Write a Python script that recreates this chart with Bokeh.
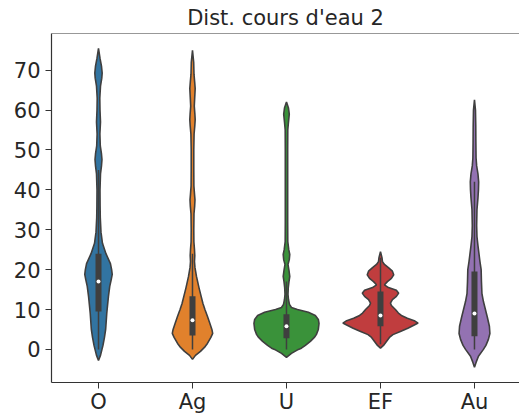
from bokeh.plotting import figure
from bokeh.models import Range1d, FixedTicker, Title, Span
from bokeh.embed import file_html
from bokeh.resources import INLINE

# ---- data ----
categories = ["O", "Ag", "U", "EF", "Au"]
colors = ["#3274a1", "#e1812c", "#3a923a", "#c03d3e", "#9372b2"]
y_ticks = [0, 10, 20, 30, 40, 50, 60, 70]

# density profiles: value levels and relative density (largest value = widest peak of all)
o_levels = [-2.8, -1.5, 0, 1, 3, 5, 9, 13.3, 15.8, 17.5, 18.8, 20, 21.5, 24, 26.6, 29.4, 33, 36, 40, 44, 46, 47.6, 49, 51, 54, 57, 60, 63, 66, 68, 69.3, 71, 73, 75.5]
o_density = [0, 2, 3.5, 4.5, 6, 7.2, 8.3, 10, 11.3, 12.8, 13.8, 13.2, 12, 7.5, 4, 2.5, 1.8, 1.6, 1.5, 2, 3, 3.5, 3, 1.8, 1.4, 2, 1.5, 1.3, 2, 3.3, 3.7, 3, 1.5, 0]

ag_levels = [-2.5, -1.5, -0.5, 0.5, 1.5, 3, 4, 5, 6.5, 8.3, 10, 11.5, 13.3, 15.5, 18.3, 20.5, 22, 23.5, 25, 27, 30, 34, 36, 37.5, 39, 41, 45, 50, 54, 56, 57.6, 59, 61, 63, 65.4, 67, 69, 72, 75]
ag_density = [0, 3, 8, 12, 15, 18.5, 20.3, 19.5, 17.5, 15, 12.5, 10.5, 8.7, 6.5, 4, 2.5, 2, 2.3, 2, 1.4, 1.3, 1.5, 2.2, 2.5, 2, 1.4, 1.3, 1.3, 1.6, 2.3, 2.7, 2.4, 1.8, 2.2, 2.7, 2.2, 1.5, 1.2, 0]

u_levels = [-2, -1, 0, 0.3, 1, 2, 3, 3.7, 5, 6.5, 7.5, 8.5, 9.3, 10, 10.5, 11.3, 12.5, 13.8, 15.5, 17, 18.3, 19.8, 21.3, 22.5, 23.8, 25, 27, 32, 40, 50, 55, 57, 59, 60.5, 62]
u_density = [0, 5, 12, 15, 19, 24, 28, 30, 32, 32.7, 32, 29, 22, 11, 5, 3, 2, 1.5, 1.8, 2.5, 3.3, 2.5, 1.5, 2.8, 3.3, 2.3, 1.3, 1.2, 1.2, 1.2, 1.3, 2, 2.8, 2, 0]

ef_levels = [0.3, 1, 2, 3, 3.7, 4.5, 5.3, 6.1, 6.6, 7.2, 7.8, 8.5, 9.1, 10, 11, 11.6, 12.5, 13.3, 14.1, 14.8, 15.5, 16.2, 17, 17.8, 18.7, 19.6, 20.5, 21.3, 22, 23, 24.5]
ef_density = [0, 3, 6, 9, 12.5, 20, 27.5, 34, 37.8, 34, 27, 21, 18, 15, 11, 10, 12, 16, 18.3, 16, 8, 4, 7, 11, 13.3, 12, 8, 4, 2, 1.5, 0]

au_levels = [-4.5, -3, -1.7, 0, 1, 2.5, 4, 5.8, 8, 10, 12, 14, 17, 20, 22, 24, 26, 28.3, 31, 35, 38, 40, 42, 44, 46, 48, 52, 56, 60, 62.6]
au_density = [0, 2, 4, 9, 11.5, 14, 15.5, 15, 13, 11, 9, 7.5, 7, 6.7, 5.5, 4.5, 3.5, 2.5, 2.2, 2.5, 3.5, 4, 4.2, 3.5, 2.2, 1.6, 1.4, 1.3, 1, 0]

levels = [o_levels, ag_levels, u_levels, ef_levels, au_levels]
densities = [o_density, ag_density, u_density, ef_density, au_density]

# inner box statistics
q1 = [9.5, 3.5, 2.8, 5.8, 3.3]
median = [17, 7.3, 5.8, 8.5, 9]
q3 = [24, 13.3, 8.8, 14.5, 19.5]
whisker_low = [0, 0, 0, 1.3, 0]
whisker_high = [45, 24, 17, 23, 42]

y_lo, y_hi = -8.3, 79.2

# ---- figure ----
p = figure(frame_width=468, frame_height=349, output_backend="svg", toolbar_location=None,
           x_range=Range1d(-0.5, 4.479), y_range=Range1d(y_lo, y_hi),
           min_border_left=51, min_border_right=0, min_border_top=32, min_border_bottom=0)
p.title = Title(text="Dist. cours d'eau 2", align="center", text_font="DejaVu Sans",
                text_font_size="21px", text_font_style="normal", text_color="#262626",
                standoff=7)
p.outline_line_color = None
p.xgrid.visible = False
p.ygrid.visible = False
p.background_fill_color = "white"
p.border_fill_color = "white"

half_max = 0.4
peak = max(max(d) for d in densities)
for i in range(len(categories)):
    w = [d / peak * half_max for d in densities[i]]
    lv = levels[i]
    xs = [i + v for v in w] + [i - v for v in reversed(w)]
    ys = list(lv) + list(reversed(lv))
    p.patch(xs, ys, fill_color=colors[i], line_color="#3f3f3f", line_width=1.6)

xpos = list(range(len(categories)))
p.segment(x0=xpos, y0=whisker_low, x1=xpos, y1=whisker_high, line_color="#3f3f3f", line_width=1.5)
p.vbar(x=xpos, bottom=q1, top=q3, width=0.064, fill_color="#3f3f3f", line_color=None)
p.scatter(x=xpos, y=median, size=4, fill_color="white", line_color=None)

for ax in (p.xaxis[0], p.yaxis[0]):
    ax.axis_line_color = "#333333"
    ax.axis_line_width = 1.2
    ax.major_tick_line_color = "#333333"
    ax.major_tick_in = 0
    ax.major_tick_out = 6
    ax.minor_tick_line_color = None
    ax.major_label_text_font = "DejaVu Sans"
    ax.major_label_text_font_size = "21px"
    ax.major_label_text_color = "#262626"
    ax.major_label_standoff = 5
p.xaxis.major_label_standoff = 1

p.xaxis.ticker = FixedTicker(ticks=xpos)
p.xaxis.major_label_overrides = {i: c for i, c in enumerate(categories)}
p.yaxis.ticker = FixedTicker(ticks=y_ticks)

# top spine
p.add_layout(Span(location=y_hi, dimension="width", line_color="#333333", line_width=1.2))

open("out.html", "w").write(file_html(p, INLINE))
